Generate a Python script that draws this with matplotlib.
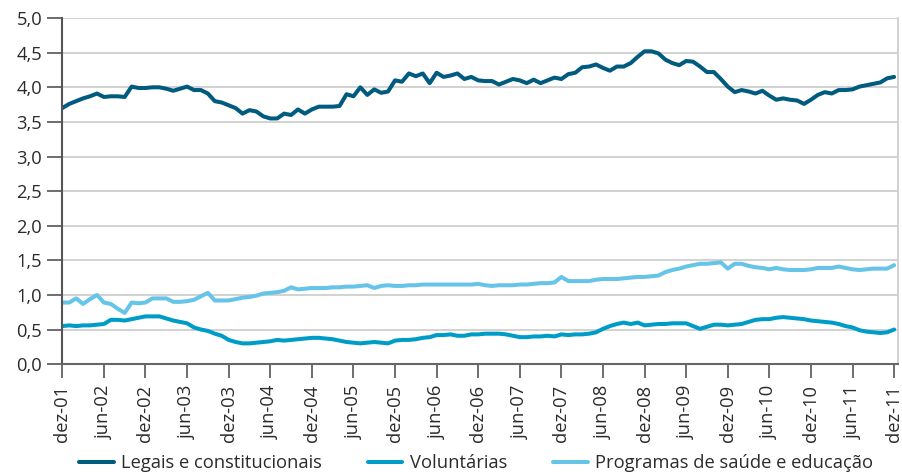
import numpy as np
import matplotlib
matplotlib.use("Agg")
import matplotlib.pyplot as plt

plt.rcParams["font.family"] = ["Open Sans", "DejaVu Sans"]

# monthly series, dez-01 .. dez-11 (121 months)
legais = [3.70, 3.76, 3.80, 3.84, 3.87, 3.91, 3.86, 3.87, 3.87, 3.86,
          4.01, 3.99, 3.99, 4.00, 4.00, 3.98, 3.95, 3.98, 4.01, 3.96,
          3.96, 3.91, 3.80, 3.78, 3.74, 3.70, 3.62, 3.67, 3.65, 3.58,
          3.55, 3.55, 3.62, 3.60, 3.68, 3.62, 3.68, 3.72, 3.72, 3.72,
          3.73, 3.90, 3.87, 4.00, 3.89, 3.97, 3.92, 3.94, 4.10, 4.08,
          4.20, 4.16, 4.20, 4.06, 4.21, 4.15, 4.17, 4.20, 4.12, 4.15,
          4.10, 4.09, 4.09, 4.04, 4.08, 4.12, 4.10, 4.06, 4.11, 4.06,
          4.10, 4.14, 4.12, 4.19, 4.21, 4.29, 4.30, 4.33, 4.28, 4.24,
          4.30, 4.30, 4.35, 4.44, 4.52, 4.52, 4.49, 4.40, 4.35, 4.32,
          4.38, 4.37, 4.30, 4.22, 4.22, 4.12, 4.01, 3.93, 3.96, 3.94,
          3.91, 3.95, 3.88, 3.82, 3.84, 3.82, 3.81, 3.76, 3.82, 3.89,
          3.93, 3.91, 3.96, 3.96, 3.97, 4.01, 4.03, 4.05, 4.07, 4.13,
          4.15]

voluntarias = [0.55, 0.56, 0.55, 0.56, 0.56, 0.57, 0.58, 0.64, 0.64, 0.63,
               0.65, 0.67, 0.69, 0.69, 0.69, 0.66, 0.63, 0.61, 0.59, 0.53,
               0.50, 0.48, 0.44, 0.41, 0.35, 0.32, 0.30, 0.30, 0.31, 0.32,
               0.33, 0.35, 0.34, 0.35, 0.36, 0.37, 0.38, 0.38, 0.37, 0.36,
               0.34, 0.32, 0.31, 0.30, 0.31, 0.32, 0.31, 0.30, 0.34, 0.35,
               0.35, 0.36, 0.38, 0.39, 0.42, 0.42, 0.43, 0.41, 0.41, 0.43,
               0.43, 0.44, 0.44, 0.44, 0.43, 0.41, 0.39, 0.39, 0.40, 0.40,
               0.41, 0.40, 0.43, 0.42, 0.43, 0.43, 0.44, 0.46, 0.51, 0.55,
               0.58, 0.60, 0.58, 0.60, 0.56, 0.57, 0.58, 0.58, 0.59, 0.59,
               0.59, 0.55, 0.51, 0.54, 0.57, 0.57, 0.56, 0.57, 0.58, 0.61,
               0.64, 0.65, 0.65, 0.67, 0.68, 0.67, 0.66, 0.65, 0.63, 0.62,
               0.61, 0.60, 0.58, 0.55, 0.53, 0.49, 0.47, 0.46, 0.45, 0.46,
               0.50]

programas = [0.89, 0.89, 0.95, 0.87, 0.94, 1.00, 0.89, 0.87, 0.80, 0.74,
             0.89, 0.88, 0.89, 0.95, 0.95, 0.95, 0.90, 0.90, 0.91, 0.93,
             0.98, 1.03, 0.92, 0.92, 0.92, 0.94, 0.96, 0.97, 0.99, 1.02,
             1.03, 1.04, 1.06, 1.11, 1.08, 1.09, 1.10, 1.10, 1.10, 1.11,
             1.11, 1.12, 1.12, 1.13, 1.14, 1.10, 1.13, 1.14, 1.13, 1.13,
             1.14, 1.14, 1.15, 1.15, 1.15, 1.15, 1.15, 1.15, 1.15, 1.15,
             1.16, 1.14, 1.13, 1.14, 1.14, 1.14, 1.15, 1.15, 1.16, 1.17,
             1.17, 1.18, 1.26, 1.20, 1.20, 1.20, 1.20, 1.22, 1.23, 1.23,
             1.23, 1.24, 1.25, 1.26, 1.26, 1.27, 1.28, 1.33, 1.36, 1.38,
             1.41, 1.43, 1.45, 1.45, 1.46, 1.47, 1.38, 1.45, 1.45, 1.42,
             1.40, 1.39, 1.37, 1.39, 1.37, 1.36, 1.36, 1.36, 1.37, 1.39,
             1.39, 1.39, 1.41, 1.39, 1.37, 1.36, 1.37, 1.38, 1.38, 1.38,
             1.43]

tick_labels = ["dez-01", "jun-02", "dez-02", "jun-03", "dez-03", "jun-04",
               "dez-04", "jun-05", "dez-05", "jun-06", "dez-06", "jun-07",
               "dez-07", "jun-08", "dez-08", "jun-09", "dez-09", "jun-10",
               "dez-10", "jun-11", "dez-11"]

months = np.arange(len(legais))
txt = "#2b2b2b"

fig = plt.figure(figsize=(9.03, 4.76), dpi=100)
ax = fig.add_axes([0.069, 0.235, 0.925, 0.727])

ax.plot(months, legais, color="#005b7f", lw=2.9, label="Legais e constitucionais",
        solid_capstyle="round", solid_joinstyle="round")
ax.plot(months, voluntarias, color="#009cc8", lw=2.9, label="Voluntárias",
        solid_capstyle="round", solid_joinstyle="round")
ax.plot(months, programas, color="#66c4e8", lw=2.9, label="Programas de saúde e educação",
        solid_capstyle="round", solid_joinstyle="round")

ax.set_xlim(0, 120.5)
ax.set_ylim(0, 5)
ax.set_xticks(np.arange(0, 121, 6))
ax.set_xticklabels(tick_labels, rotation=90)
yt = np.arange(0, 5.01, 0.5)
ax.set_yticks(yt)
ax.set_yticklabels([f"{v:.1f}".replace(".", ",") for v in yt])

ax.grid(axis="y", color="#cfcfcf", lw=1.3)
ax.set_axisbelow(True)
ax.spines["top"].set_visible(False)
ax.spines["right"].set_color("#cfcfcf")
ax.spines["right"].set_linewidth(1.3)
ax.spines["left"].set_color("#555555")
ax.spines["left"].set_linewidth(1.5)
ax.spines["bottom"].set_color("#666666")
ax.spines["bottom"].set_linewidth(1.5)
ax.tick_params(axis="y", length=10.5, width=1.2, color="#555555", pad=4,
               labelsize=13.2, labelcolor=txt)
ax.tick_params(axis="x", length=10, width=1.2, color="#555555", pad=5,
               labelsize=13.2, labelcolor=txt)

fig.legend(loc="center", bbox_to_anchor=(0.527, 0.027), ncol=3, frameon=False,
           fontsize=13.2, handlelength=1.9, handletextpad=0.4, columnspacing=2.5,
           borderpad=0, labelcolor=txt)

fig.savefig("out.png", dpi=100)
